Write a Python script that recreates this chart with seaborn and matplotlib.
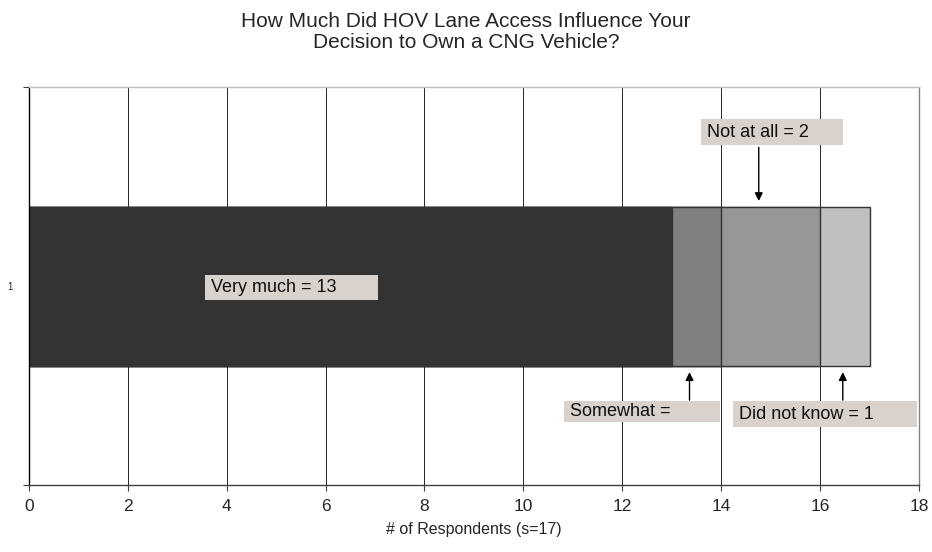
import numpy as np
import pandas as pd
import matplotlib
matplotlib.use("Agg")
import matplotlib.pyplot as plt
import seaborn as sns
from matplotlib.patches import Rectangle

# data
categories = ["Very much", "Somewhat", "Not at all", "Did not know"]
counts = [13, 1, 2, 1]
colors = ["#333333", "#808080", "#969696", "#c0c0c0"]
labels = ["Very much = 13", "Somewhat =", "Not at all = 2", "Did not know = 1"]
group = ["1"]

sns.set_style("white")
plt.rcParams["font.family"] = ["Liberation Sans", "DejaVu Sans"]

df = pd.DataFrame({"category": categories, "count": counts, "color": colors})
df["cum"] = np.cumsum(df["count"])

fig, ax = plt.subplots(figsize=(9.32, 5.52), dpi=100)
fig.subplots_adjust(left=0.031, right=0.986, top=0.842, bottom=0.121)

# stacked bar: draw cumulative totals from the largest down
for i in range(len(df) - 1, -1, -1):
    row = df.iloc[i]
    sns.barplot(x=[row["cum"]], y=group, color=row["color"], width=0.4,
                orient="h", edgecolor="#333333", linewidth=1.0,
                saturation=1, ax=ax, zorder=2)

ax.set_xlim(0, 18)
ax.set_ylim(0.5, -0.5)
ax.set_xticks(np.arange(0, 19, 2))
ax.xaxis.grid(True, color="black", linewidth=0.6, zorder=0)
ax.set_axisbelow(True)
ax.tick_params(axis="x", direction="out", length=4, width=0.8, color="#404040",
               labelsize=12.5, pad=6, bottom=True)
ax.set_yticks([0])
ax.set_yticklabels(group, fontsize=7)
ax.set_yticks([-0.5, 0.5], minor=True)
ax.tick_params(axis="y", which="major", length=0, pad=12)
ax.tick_params(axis="y", which="minor", direction="out", length=4, width=0.8,
               color="#404040", left=True)
ax.set_ylabel("")
ax.set_xlabel("# of Respondents (s=17)", fontsize=11.5, labelpad=6)

ax.spines["left"].set_color("black")
ax.spines["bottom"].set_color("#404040")
ax.spines["top"].set_color("#c0c0c0")
ax.spines["right"].set_color("#808080")
for s in ax.spines.values():
    s.set_linewidth(1.0)

# annotation boxes (x0, x1, y0, y1), arrows (x, y_from, y_to)
boxfc = "#d9d1cb"
boxes = [(3.56, 7.06, -0.028, 0.035),
         (10.82, 13.98, 0.289, 0.342),
         (13.59, 16.46, -0.42, -0.354),
         (14.24, 17.96, 0.289, 0.354)]
arrows = [None, (13.36, 0.286, 0.216), (14.76, -0.349, -0.214), (16.46, 0.286, 0.216)]
for lab, (x0, x1, y0, y1), arr in zip(labels, boxes, arrows):
    ax.add_patch(Rectangle((x0, y0), x1 - x0, y1 - y0, facecolor=boxfc,
                           edgecolor="none", zorder=5))
    ax.text(x0 + 0.12, (y0 + y1) / 2, lab, ha="left", va="center",
            fontsize=13, color="#111111", zorder=6)
    if arr is not None:
        ax.annotate("", xy=(arr[0], arr[2]), xytext=(arr[0], arr[1]),
                    arrowprops=dict(arrowstyle="-|>", color="black", lw=1.0,
                                    mutation_scale=12, shrinkA=0, shrinkB=0),
                    zorder=6)

fig.suptitle("How Much Did HOV Lane Access Influence Your\nDecision to Own a CNG Vehicle?",
             fontsize=15, y=0.979, va="top", linespacing=1.15)

fig.savefig("out.png", dpi=100)
